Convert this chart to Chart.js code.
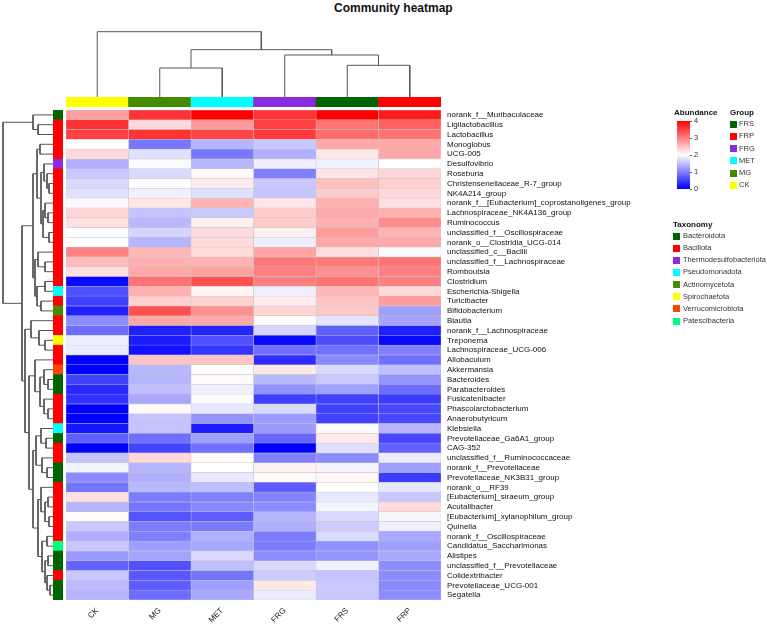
<!DOCTYPE html>
<html>
<head>
<meta charset="utf-8">
<script src="https://cdn.jsdelivr.net/npm/chart.js@4.4.0/dist/chart.umd.min.js"></script>
<style>
  body { margin: 0; background: #fff; }
  #wrap { position: relative; width: 767px; height: 626px; overflow: hidden; font-family: "Liberation Sans", Arial, sans-serif; color: #222; }
  canvas, .abs { position: absolute; }
  .title { font-weight: bold; font-size: 12px; line-height: 14px; color: #111; }
  .lt { font-weight: bold; font-size: 8px; line-height: 9px; color: #111; }
  .li { font-size: 7.5px; line-height: 8px; color: #333; white-space: nowrap; }
  .box { width: 7px; height: 7px; }
</style>
</head>
<body>
<div id="wrap">
  <div class="abs title" style="left:334px; top:1px;">Community heatmap</div>
  <canvas id="colDendro" width="375" height="69" style="left:66px; top:28px;"></canvas>
  <canvas id="groupBar" width="375" height="10" style="left:66px; top:97px;"></canvas>
  <canvas id="rowDendro" width="53" height="490" style="left:0px; top:110px;"></canvas>
  <canvas id="taxBar" width="10" height="490" style="left:53px; top:110px;"></canvas>
  <canvas id="heat" width="701" height="516" style="left:66px; top:110px;"></canvas>
  <div id="legend"></div>
</div>
<script>
const font = '"Liberation Sans", Arial, sans-serif';

// columns (samples) in display order
const groups = ['CK', 'MG', 'MET', 'FRG', 'FRS', 'FRP'];
const groupColors = ['#FFFF00', '#458B00', '#00FFFF', '#8A2BE2', '#006400', '#FF0000'];

// rows (genera) in display order
const taxa = [
  'norank_f__Muribaculaceae', 'Ligilactobacillus', 'Lactobacillus', 'Monoglobus', 'UCG-005',
  'Desulfovibrio', 'Roseburia', 'Christensenellaceae_R-7_group', 'NK4A214_group',
  'norank_f__[Eubacterium]_coprostanoligenes_group', 'Lachnospiraceae_NK4A136_group', 'Ruminococcus',
  'unclassified_f__Oscillospiraceae', 'norank_o__Clostridia_UCG-014', 'unclassified_c__Bacilli',
  'unclassified_f__Lachnospiraceae', 'Romboutsia', 'Clostridium', 'Escherichia-Shigella', 'Turicibacter',
  'Bifidobacterium', 'Blautia', 'norank_f__Lachnospiraceae', 'Treponema', 'Lachnospiraceae_UCG-006',
  'Allobaculum', 'Akkermansia', 'Bacteroides', 'Parabacteroides', 'Fusicatenibacter',
  'Phascolarctobacterium', 'Anaerobutyricum', 'Klebsiella', 'Prevotellaceae_Ga6A1_group', 'CAG-352',
  'unclassified_f__Ruminococcaceae', 'norank_f__Prevotellaceae', 'Prevotellaceae_NK3B31_group',
  'norank_o__RF39', '[Eubacterium]_siraeum_group', 'Acutalibacter', '[Eubacterium]_xylanophilum_group',
  'Quinella', 'norank_f__Oscillospiraceae', 'Candidatus_Saccharimonas', 'Alistipes',
  'unclassified_f__Prevotellaceae', 'Colidextribacter', 'Prevotellaceae_UCG-001', 'Segatella'
];

// phylum of each row
const phyla = ['Bacteroidota', 'Bacillota', 'Thermodesulfobacteriota', 'Pseudomonadota', 'Actinomycetota',
  'Spirochaetota', 'Verrucomicrobiota', 'Patescibacteria'];
const phylaColors = ['#006400', '#FF0000', '#8A2BE2', '#00FFFF', '#458B00', '#FFFF00', '#FF4500', '#00FF7F'];
const rowPhylum = [0, 1, 1, 1, 1, 2, 1, 1, 1, 1, 1, 1, 1, 1, 1, 1, 1, 1, 3, 1,
  4, 1, 1, 5, 1, 1, 6, 0, 0, 1, 1, 1, 3, 0, 1, 1, 0, 0, 1, 1,
  1, 1, 1, 1, 7, 0, 0, 1, 0, 0];

// scaled abundance, one array per sample (0 = blue, 2 = white, 4 = red)
const CK = [2.75, 3.6, 3.5, 2.0, 2.3, 1.38, 1.57, 1.7, 1.76, 1.96, 2.33, 2.25, 2.0, 2.0, 2.97, 2.53, 2.25, 0.08, 0.63, 0.5,
  0.25, 1.1, 0.85, 1.87, 1.85, 0.0, 0.0, 0.5, 0.31, 0.38, 0.0, 0.0, 0.19, 0.75, 0.0, 1.54, 1.91, 1.1, 0.9, 2.25,
  1.41, 2.02, 1.57, 1.38, 1.57, 1.22, 0.78, 1.57, 1.47, 1.41];
const MG = [3.6, 2.3, 3.6, 0.94, 1.76, 1.96, 1.7, 2.0, 1.88, 2.2, 1.54, 1.44, 1.66, 1.41, 2.56, 2.62, 2.68, 3.1, 2.62, 2.37,
  3.37, 2.68, 0.25, 0.22, 0.13, 2.46, 1.44, 1.41, 1.5, 1.32, 2.04, 1.54, 1.54, 0.88, 0.53, 2.3, 1.41, 1.38, 1.44, 0.97,
  0.91, 0.66, 0.97, 1.0, 1.25, 1.29, 0.63, 0.69, 0.72, 0.85];
const MET = [4.0, 2.8, 3.45, 1.41, 0.94, 1.44, 2.05, 2.15, 1.76, 2.6, 1.57, 2.12, 2.28, 2.28, 2.28, 2.6, 2.72, 3.37, 2.08, 2.37,
  2.87, 2.68, 0.28, 0.63, 0.41, 2.46, 2.0, 2.03, 1.88, 1.98, 1.82, 1.16, 0.22, 1.25, 0.88, 2.04, 2.0, 1.82, 1.5, 1.0,
  1.07, 0.72, 0.97, 1.38, 1.32, 1.7, 1.5, 0.91, 1.25, 1.32];
const FRG = [3.6, 3.5, 3.55, 1.57, 1.38, 1.87, 1.0, 1.57, 1.54, 2.2, 2.4, 2.4, 2.12, 1.87, 2.72, 3.06, 3.0, 3.0, 1.87, 2.15,
  2.33, 2.02, 1.66, 0.06, 0.88, 0.35, 2.18, 1.44, 1.13, 0.5, 1.72, 1.22, 1.22, 0.81, 0.0, 1.0, 2.12, 2.03, 0.72, 1.03,
  1.1, 1.41, 1.38, 0.97, 0.97, 1.1, 1.7, 1.6, 2.18, 1.85];
const FRS = [4.0, 3.1, 3.15, 2.68, 2.18, 1.88, 2.2, 2.5, 2.4, 2.62, 2.68, 2.62, 2.78, 2.68, 2.25, 3.06, 2.87, 3.1, 2.56, 2.46,
  2.43, 1.79, 0.75, 0.6, 0.88, 1.07, 1.7, 1.57, 1.25, 0.5, 0.5, 0.5, 1.98, 2.18, 1.76, 1.1, 1.91, 2.07, 2.0, 1.82,
  1.91, 1.7, 1.6, 1.72, 1.13, 1.16, 1.88, 1.54, 1.57, 1.57];
const FRP = [3.8, 3.25, 3.1, 2.68, 2.68, 2.0, 2.33, 2.37, 2.3, 2.25, 2.62, 2.9, 2.6, 2.67, 1.96, 3.1, 3.0, 3.0, 2.3, 2.78,
  1.25, 1.29, 0.25, 0.06, 1.0, 0.88, 1.5, 1.16, 0.85, 0.47, 0.56, 0.56, 1.41, 0.56, 0.75, 1.85, 1.25, 0.47, 1.82, 1.57,
  2.28, 1.94, 1.87, 1.32, 1.25, 1.32, 1.1, 1.1, 1.07, 1.1];
const abundance = [CK, MG, MET, FRG, FRS, FRP];

// dendrograms, hclust style: negative = leaf (1-based), positive = earlier merge, then height
const colMerge = [[-2, -3, 29], [-5, -6, 31.7], [-4, 2, 42], [1, 3, 47.3], [-1, 4, 65.3]];
const rowMerge = [
  [-2, -3, 15], [-1, 1, 20], [-4, -5, 13], [-8, -9, 4], [-7, 4, 6], [-6, 5, 9], [-11, -12, 5], [-10, 7, 8],
  [-13, -14, 4], [8, 9, 10], [6, 10, 12], [3, 11, 16], [-16, -17, 8], [-15, 13, 15],
  [-18, -19, 8], [-20, -21, 12], [15, 16, 16], [14, 17, 18], [12, 18, 20],
  [-24, -25, 8], [-23, 20, 14], [-22, 21, 22],
  [-28, -29, 5], [-27, 23, 9], [-31, -32, 5], [-30, 25, 9], [24, 26, 13], [-26, 27, 18],
  [-34, -35, 7], [-33, 29, 12], [-37, -38, 6], [-36, 31, 11], [30, 32, 17],
  [-40, -41, 5], [-42, -43, 4], [34, 35, 8], [-39, 36, 12], [-44, -45, 6], [-46, -47, 5], [-49, -50, 3],
  [-48, 40, 6], [39, 41, 8], [38, 42, 11], [37, 43, 15], [33, 44, 20], [28, 45, 24], [22, 46, 28],
  [19, 47, 31], [2, 48, 50]
];

function heatColor(v) {
  const t = Math.max(0, Math.min(4, v));
  if (t <= 2) { const c = Math.round(255 * t / 2); return `rgb(${c},${c},255)`; }
  const c = Math.round(255 * (4 - t) / 2);
  return `rgb(255,${c},${c})`;
}

// turn a merge table into U-shaped links: [pos, height] points
function dendroLinks(merge) {
  const nodes = [];
  const get = id => id < 0 ? { pos: -id - 1, h: 0 } : nodes[id - 1];
  return merge.map(([a, b, h]) => {
    const A = get(a), B = get(b);
    nodes.push({ pos: (A.pos + B.pos) / 2, h: h });
    return [[A.pos, A.h], [A.pos, h], [B.pos, h], [B.pos, B.h]];
  });
}

const noAxes = { legend: { display: false }, tooltip: { enabled: false } };

// column dendrogram
new Chart(document.getElementById('colDendro'), {
  type: 'scatter',
  data: {
    datasets: dendroLinks(colMerge).map(l => ({
      data: l.map(p => ({ x: p[0], y: p[1] })),
      showLine: true, pointRadius: 0, borderColor: '#555', borderWidth: 1, clip: false
    }))
  },
  options: {
    responsive: false, animation: false, layout: { padding: 0 }, plugins: noAxes,
    scales: {
      x: { type: 'linear', display: false, min: -0.5, max: 5.5 },
      y: { type: 'linear', display: false, min: 0, max: 69 }
    }
  }
});

// row dendrogram
new Chart(document.getElementById('rowDendro'), {
  type: 'scatter',
  data: {
    datasets: dendroLinks(rowMerge).map(l => ({
      data: l.map(p => ({ x: p[1], y: p[0] })),
      showLine: true, pointRadius: 0, borderColor: '#555', borderWidth: 1, clip: false
    }))
  },
  options: {
    responsive: false, animation: false, layout: { padding: 0 }, plugins: noAxes,
    scales: {
      x: { type: 'linear', display: false, min: 0, max: 53, reverse: true },
      y: { type: 'linear', display: false, min: -0.5, max: 49.5, reverse: true }
    }
  }
});

// group colour strip
new Chart(document.getElementById('groupBar'), {
  type: 'bar',
  data: {
    labels: groups,
    datasets: [{ data: groups.map(() => 1), backgroundColor: groupColors, barPercentage: 1, categoryPercentage: 1 }]
  },
  options: {
    responsive: false, animation: false, layout: { padding: 0 }, plugins: noAxes,
    scales: { x: { display: false }, y: { display: false, min: 0, max: 1 } }
  }
});

// taxonomy colour strip
new Chart(document.getElementById('taxBar'), {
  type: 'bar',
  data: {
    labels: taxa,
    datasets: [{
      data: taxa.map(() => 1),
      backgroundColor: rowPhylum.map(p => phylaColors[p]),
      barPercentage: 1, categoryPercentage: 1
    }]
  },
  options: {
    indexAxis: 'y', responsive: false, animation: false, layout: { padding: 0 }, plugins: noAxes,
    scales: { x: { display: false, min: 0, max: 1 }, y: { display: false } }
  }
});

// heatmap
new Chart(document.getElementById('heat'), {
  type: 'bar',
  data: {
    labels: taxa,
    datasets: groups.map((g, j) => ({
      label: g,
      data: taxa.map(() => 1),
      backgroundColor: abundance[j].map(heatColor),
      borderColor: '#c4c4c4',
      borderWidth: 0.5,
      borderSkipped: false,
      barPercentage: 1,
      categoryPercentage: 1
    }))
  },
  options: {
    indexAxis: 'y', responsive: false, animation: false, layout: { padding: 0 }, plugins: noAxes,
    scales: {
      x: {
        type: 'linear', stacked: true, min: 0, max: 6,
        grid: { display: false, drawTicks: false }, border: { display: false },
        afterBuildTicks: s => { s.ticks = groups.map((g, i) => ({ value: i + 0.5 })); },
        afterFit: s => { s.height = 26; s.paddingLeft = 0; s.paddingRight = 0; },
        ticks: {
          autoSkip: false, minRotation: 45, maxRotation: 45, padding: 6, color: '#222',
          font: { family: font, size: 8 },
          callback: v => groups[Math.floor(v)]
        }
      },
      y: {
        position: 'right', stacked: true,
        grid: { display: false, drawTicks: false }, border: { display: false },
        afterFit: s => { s.width = 326; s.paddingTop = 0; s.paddingBottom = 0; },
        ticks: { autoSkip: false, padding: 6, color: '#111', font: { family: font, size: 8 } }
      }
    }
  }
});

// legends
const legend = document.getElementById('legend');
let html = '';
html += '<div class="abs lt" style="left:674px; top:108px;">Abundance</div>';
html += '<div class="abs" style="left:677px; top:121px; width:13px; height:68px; background:linear-gradient(to bottom, #ff0000, #ffffff, #0000ff);"></div>';
[4, 3, 2, 1, 0].forEach((t, i) => {
  const y = 121 + i * 17;
  html += `<div class="abs" style="left:690px; top:${y - 0.5}px; width:2px; height:1px; background:#666;"></div>`;
  html += `<div class="abs li" style="left:694px; top:${y - 4}px;">${t}</div>`;
});
html += '<div class="abs lt" style="left:730px; top:108px;">Group</div>';
['FRS', 'FRP', 'FRG', 'MET', 'MG', 'CK'].forEach((g, i) => {
  const y = 124 + i * 12.25;
  const c = groupColors[groups.indexOf(g)];
  html += `<div class="abs box" style="left:730px; top:${y - 3.5}px; background:${c};"></div>`;
  html += `<div class="abs li" style="left:739px; top:${y - 4}px;">${g}</div>`;
});
html += '<div class="abs lt" style="left:673px; top:219.5px;">Taxonomy</div>';
phyla.forEach((p, i) => {
  const y = 236 + i * 12.15;
  html += `<div class="abs box" style="left:673px; top:${y - 3.5}px; background:${phylaColors[i]};"></div>`;
  html += `<div class="abs li" style="left:683px; top:${y - 4}px;">${p}</div>`;
});
legend.innerHTML = html;
</script>
</body>
</html>
